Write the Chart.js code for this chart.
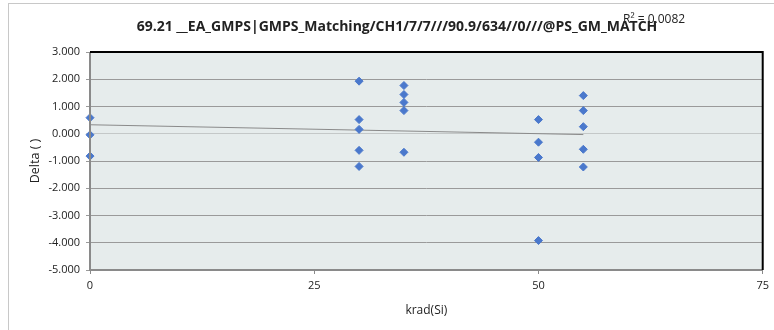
<!DOCTYPE html>
<html>
<head>
<meta charset="utf-8">
<script src="https://cdn.jsdelivr.net/npm/chart.js@4"></script>
<style>
  html, body { margin: 0; padding: 0; background: #fff; }
  #wrap { width: 774px; height: 330px; }
</style>
</head>
<body>
<div id="wrap"><canvas id="graph"></canvas></div>
<script>
const chartTitle = "69.21 __EA_GMPS|GMPS_Matching/CH1/7/7///90.9/634//0///@PS_GM_MATCH";
const rSquared = "R\u00b2 = 0.0082";

// krad(Si) dose for each measurement
const doses = [0, 0, 0,
  30, 30, 30, 30, 30,
  35, 35, 35, 35, 35,
  50, 50, 50, 50,
  55, 55, 55, 55, 55];
const deltas = [0.59, -0.04, -0.82,
  1.93, 0.52, 0.16, -0.61, -1.20,
  1.77, 1.44, 1.15, 0.85, -0.68,
  0.52, -0.31, -0.87, -3.92,
  1.40, 0.85, 0.26, -0.57, -1.22];

// linear trendline end points
const trendX = [0, 55];
const trendY = [0.33, -0.03];

const xTicks = [0, 25, 50, 75];
const yTicks = [3, 2, 1, 0, -1, -2, -3, -4, -5];

const fontFam = "'Open Sans', 'Liberation Sans', sans-serif";

const frame = {
  id: "frame",
  beforeDraw(chart) {
    const c = chart.ctx, a = chart.chartArea;
    c.save();
    c.fillStyle = "#e6ecec";
    c.fillRect(a.left, a.top, a.right - a.left, a.bottom - a.top);
    c.strokeStyle = "#c8c8c8";
    c.lineWidth = 1;
    c.strokeRect(8.5, 3.5, 800, 400);
    c.restore();
  },
  afterDatasetsDraw(chart) {
    const c = chart.ctx, a = chart.chartArea;
    c.save();
    c.strokeStyle = "#8a8a8a";
    c.lineWidth = 2;
    c.beginPath();
    c.moveTo(a.left, a.top);
    c.lineTo(a.left, a.bottom);
    c.lineTo(a.right, a.bottom);
    c.stroke();
    c.strokeStyle = "#000";
    c.lineWidth = 2;
    c.beginPath();
    c.moveTo(a.left, a.top);
    c.lineTo(a.right, a.top);
    c.lineTo(a.right, a.bottom);
    c.stroke();
    c.restore();
  },
  afterDraw(chart) {
    const c = chart.ctx;
    c.save();
    c.fillStyle = "#222";
    c.textAlign = "center";
    c.textBaseline = "middle";
    c.font = "bold 14px " + fontFam;
    c.fillText(chartTitle, 397, 27);
    c.font = "12px " + fontFam;
    c.textAlign = "left";
    c.fillText(rSquared, 623, 20);
    c.restore();
  }
};

new Chart(document.getElementById("graph").getContext("2d"), {
  type: "scatter",
  data: {
    datasets: [
      {
        label: "Delta",
        data: doses.map((d, i) => ({ x: d, y: deltas[i] })),
        pointStyle: "rectRot",
        pointRadius: 4,
        pointBackgroundColor: "#4a78cc",
        pointBorderColor: "#4a78cc",
        pointBorderWidth: 1,
        clip: false,
        order: 1
      },
      {
        label: "Trend",
        type: "line",
        data: trendX.map((d, i) => ({ x: d, y: trendY[i] })),
        borderColor: "#8a8a8a",
        borderWidth: 1,
        pointRadius: 0,
        fill: false,
        order: 2
      }
    ]
  },
  options: {
    responsive: true,
    maintainAspectRatio: false,
    animation: false,
    layout: { padding: { top: 52, left: 22, right: 6, bottom: 4 } },
    plugins: {
      legend: { display: false },
      tooltip: { enabled: false },
      title: { display: false }
    },
    scales: {
      x: {
        type: "linear",
        min: 0,
        max: 75,
        afterBuildTicks: s => { s.ticks = xTicks.map(v => ({ value: v })); },
        afterFit: s => { s.height = 56; },
        ticks: { color: "#222", font: { family: fontFam, size: 11 }, padding: 5 },
        grid: { display: true, drawOnChartArea: false, tickLength: 4, color: "#8a8a8a" },
        border: { display: false },
        title: { display: true, text: "krad(Si)", color: "#222", font: { family: fontFam, size: 12 }, padding: { top: 4, bottom: 8 } }
      },
      y: {
        min: -5,
        max: 3,
        afterBuildTicks: s => { s.ticks = yTicks.map(v => ({ value: v })); },
        afterFit: s => { s.width = 68; },
        ticks: {
          color: "#222",
          font: { family: fontFam, size: 11 },
          padding: 6,
          callback: v => v.toFixed(3)
        },
        grid: {
          tickLength: 4,
          color: ctx => (ctx.tick && ctx.tick.value === 0 ? "#c4c8c8" : "#9a9a9a")
        },
        border: { display: false },
        title: { display: true, text: "Delta ( )", color: "#222", font: { family: fontFam, size: 12.5 }, padding: { top: 6, bottom: 6 } }
      }
    }
  },
  plugins: [frame]
});
</script>
</body>
</html>
